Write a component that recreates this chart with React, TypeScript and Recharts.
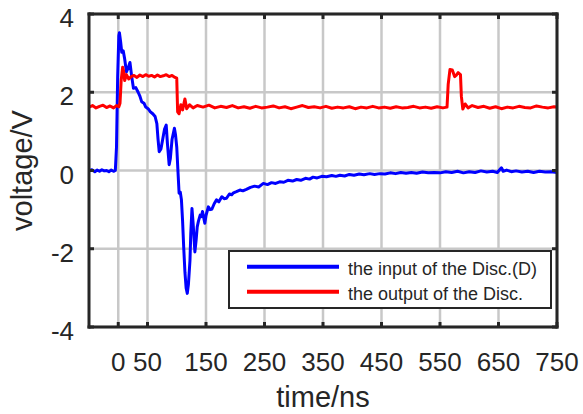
import React from 'react';
import { LineChart, Line, XAxis, YAxis, CartesianGrid, Legend, Label } from 'recharts';

const timeTicks = [0, 50, 150, 250, 350, 450, 550, 650, 750];
const voltTicks = [-4, -2, 0, 2, 4];
const seriesNames = ['the input of the Disc.(D)', 'the output of the Disc.'];
const seriesColors = ['#0000ff', '#ff0000'];

// discriminator input (blue)
const inputTime = [
  -50, -45, -40, -36, -32, -28, -24, -20, -16, -12, -8, -5, -3, -1, 1, 2, 4, 6, 8.5, 11, 14, 17, 20, 23, 26, 30,
  34, 37, 40, 44, 47, 51, 55, 59, 63, 66, 68, 70, 73, 76, 79, 82, 84, 87, 89, 92, 96, 98, 100, 102, 104, 106,
  108, 110, 112, 114, 116, 118, 120, 122.6, 124, 126, 128, 131, 133, 135, 137, 140, 142, 144, 146, 148, 150,
  154, 157, 160, 164, 168, 172, 177, 181, 185, 190, 194, 197, 202, 208, 213, 219, 226, 233, 240, 248, 255, 262,
  269, 276, 283, 290, 298, 305, 312, 320, 327, 333, 340, 348, 356, 365, 372, 379, 387, 395, 403, 412, 420, 430,
  438, 447, 456, 465, 474, 483, 492, 501, 510, 520, 530, 540, 550, 560, 570, 580, 590, 600, 610, 620, 630, 640,
  648, 652, 655, 658, 664, 672, 680, 690, 700, 710, 720, 730, 740, 750,
];
const inputVoltage = [
  -0.01, 0.02, -0.03, 0.01, -0.02, 0.02, -0.01, 0.0, -0.03, 0.01, -0.02, 0.0, 0.6, 2.4, 3.45, 3.52, 3.3, 3.02,
  3.06, 2.85, 2.52, 2.62, 2.76, 2.4, 2.1, 2.12, 2.0, 1.9, 1.76, 1.72, 1.62, 1.58, 1.5, 1.45, 1.38, 1.2, 0.8,
  0.48, 0.55, 0.8, 1.05, 1.16, 0.7, 0.15, 0.3, 0.8, 1.08, 0.9, 0.6, 0.0, -0.58, -0.55, -0.75, -1.3, -2.0, -2.6,
  -3.0, -3.14, -2.9, -2.3, -1.6, -0.97, -1.35, -2.08, -1.8, -1.44, -1.3, -1.14, -1.18, -1.05, -1.2, -1.35,
  -1.15, -0.93, -1.0, -0.99, -0.85, -0.75, -0.8, -0.67, -0.72, -0.71, -0.6, -0.62, -0.57, -0.54, -0.5, -0.52,
  -0.48, -0.43, -0.4, -0.42, -0.33, -0.36, -0.31, -0.33, -0.29, -0.3, -0.25, -0.27, -0.23, -0.25, -0.2, -0.22,
  -0.17, -0.19, -0.15, -0.16, -0.13, -0.15, -0.12, -0.14, -0.1, -0.12, -0.09, -0.11, -0.08, -0.1, -0.08, -0.09,
  -0.06, -0.08, -0.05, -0.07, -0.05, -0.07, -0.04, -0.06, -0.05, -0.06, -0.03, -0.05, -0.02, -0.06, -0.03,
  -0.05, -0.01, -0.04, -0.02, -0.05, 0.02, 0.07, -0.02, 0.01, -0.03, -0.01, -0.04, -0.02, -0.05, -0.02, -0.04,
  -0.03, -0.05,
];

// discriminator output (red)
const outputTime = [
  -50, -44, -38, -32, -26, -20, -14, -8, -3, 1, 3, 5, 7.5, 9, 11, 14, 18, 22, 27, 32, 37, 42, 47, 52, 57, 62, 67,
  72, 77, 82, 87, 92, 97, 100, 101.5, 104, 107, 110, 114, 117, 122, 128, 135, 145, 155, 165, 175, 185, 195, 205,
  215, 225, 235, 245, 255, 265, 275, 285, 295, 305, 315, 325, 335, 345, 355, 365, 375, 385, 395, 405, 415, 425,
  435, 445, 455, 465, 475, 485, 495, 505, 515, 525, 535, 545, 555, 562, 564, 567, 571, 575, 578, 581, 585,
  586.5, 589, 593, 598, 605, 615, 625, 635, 645, 655, 665, 675, 685, 695, 705, 715, 725, 735, 745, 750,
];
const outputVoltage = [
  1.62, 1.66, 1.6, 1.64, 1.67, 1.61, 1.65, 1.6, 1.66, 1.63, 1.72, 2.3, 2.64, 2.55, 2.3, 2.45, 2.34, 2.4, 2.43,
  2.38, 2.44, 2.4, 2.45, 2.41, 2.43, 2.39, 2.44, 2.4, 2.42, 2.45, 2.4, 2.43, 2.38, 2.36, 1.5, 1.45, 1.68, 1.55,
  1.83, 1.58, 1.68, 1.6, 1.66, 1.62, 1.67, 1.6, 1.64, 1.61, 1.66, 1.6, 1.63, 1.59, 1.64, 1.6, 1.62, 1.65, 1.6,
  1.63, 1.58, 1.62, 1.66, 1.61, 1.63, 1.6, 1.64, 1.59, 1.62, 1.6, 1.63, 1.58, 1.62, 1.6, 1.64, 1.6, 1.62, 1.59,
  1.63, 1.6, 1.61, 1.64, 1.6, 1.62, 1.59, 1.63, 1.6, 1.62, 2.2, 2.58, 2.57, 2.4, 2.44, 2.5, 2.45, 1.9, 1.57,
  1.7, 1.6, 1.66, 1.61, 1.64, 1.59, 1.63, 1.58, 1.62, 1.6, 1.64, 1.61, 1.6, 1.65, 1.62, 1.6, 1.63, 1.62,
];

const inputData = inputTime.map((t, i) => ({ t, v: inputVoltage[i] }));
const outputData = outputTime.map((t, i) => ({ t, v: outputVoltage[i] }));

const FONT = '"Liberation Sans", Arial, Helvetica, sans-serif';
const INK = '#262626';
const GRID = '#c8c8c8';

const XTick = ({ x, y, payload }: any) => (
  <text x={x} y={y} dy="0.71em" textAnchor="middle" fontSize={26} fontFamily={FONT} fill={INK}>
    {payload.value}
  </text>
);

const YTick = ({ x, y, payload }: any) => (
  <text x={x} y={y + 4} dy="0.355em" textAnchor="end" fontSize={26} fontFamily={FONT} fill={INK}>
    {payload.value}
  </text>
);

const NoTick = () => <g />;

const LegendBox = () => (
  <svg width={324} height={59} style={{ display: 'block' }}>
    <rect x={1} y={1} width={322} height={57} fill="#fff" stroke={INK} strokeWidth={2} />
    {seriesNames.map((name, i) => (
      <g key={name}>
        <line x1={19} x2={111} y1={16.7 + i * 25} y2={16.7 + i * 25} stroke={seriesColors[i]} strokeWidth={4} />
        <text x={120} y={25 + i * 25} fontSize={18} fontFamily={FONT} fill={INK}>
          {name}
        </text>
      </g>
    ))}
  </svg>
);

const axisLine = { stroke: INK, strokeWidth: 3, strokeLinecap: 'square' as const };
const tickLine = { stroke: INK, strokeWidth: 3 };

export default function App() {
  return (
    <div style={{ position: 'absolute', left: 0, top: 0, width: 583, height: 414, background: '#fff' }}>
      <LineChart width={583} height={414} margin={{ top: 13, right: 25, left: 0, bottom: 0 }}>
        <CartesianGrid stroke={GRID} strokeWidth={2.5} strokeOpacity={1} syncWithTicks />
        <XAxis
          dataKey="t"
          type="number"
          domain={[-50, 750]}
          ticks={timeTicks}
          interval={0}
          allowDataOverflow
          height={87}
          tickSize={-5}
          tickMargin={31}
          axisLine={axisLine}
          tickLine={tickLine}
          tick={<XTick />}
        >
          <Label
            content={({ viewBox }: any) => (
              <text
                x={viewBox.x + viewBox.width / 2}
                y={viewBox.y + 80}
                textAnchor="middle"
                fontSize={29}
                fontFamily={FONT}
                fill={INK}
              >
                time/ns
              </text>
            )}
          />
        </XAxis>
        <XAxis
          xAxisId="top"
          orientation="top"
          dataKey="t"
          type="number"
          domain={[-50, 750]}
          ticks={timeTicks}
          interval={0}
          allowDataOverflow
          height={1}
          tickSize={-5}
          axisLine={axisLine}
          tickLine={tickLine}
          tick={<NoTick />}
        />
        <YAxis
          type="number"
          domain={[-4, 4]}
          ticks={voltTicks}
          interval={0}
          allowDataOverflow
          width={89}
          tickSize={-5}
          tickMargin={20}
          axisLine={axisLine}
          tickLine={tickLine}
          tick={<YTick />}
        >
          <Label
            content={({ viewBox }: any) => {
              const cy = viewBox.y + viewBox.height / 2;
              return (
                <text
                  x={32}
                  y={cy}
                  transform={`rotate(-90, 32, ${cy})`}
                  textAnchor="middle"
                  fontSize={29}
                  fontFamily={FONT}
                  fill={INK}
                >
                  voltage/V
                </text>
              );
            }}
          />
        </YAxis>
        <YAxis
          yAxisId="right"
          orientation="right"
          type="number"
          domain={[-4, 4]}
          ticks={voltTicks}
          interval={0}
          allowDataOverflow
          width={1}
          tickSize={-5}
          axisLine={axisLine}
          tickLine={tickLine}
          tick={<NoTick />}
        />
        <Legend
          layout="vertical"
          align="center"
          verticalAlign="middle"
          wrapperStyle={{ left: 228, top: 250, width: 324, height: 59 }}
          content={<LegendBox />}
        />
        <Line
          data={inputData}
          dataKey="v"
          name={seriesNames[0]}
          stroke={seriesColors[0]}
          strokeWidth={3}
          strokeLinejoin="round"
          dot={false}
          activeDot={false}
          isAnimationActive={false}
        />
        <Line
          data={outputData}
          dataKey="v"
          name={seriesNames[1]}
          stroke={seriesColors[1]}
          strokeWidth={3}
          strokeLinejoin="round"
          dot={false}
          activeDot={false}
          isAnimationActive={false}
        />
      </LineChart>
    </div>
  );
}
